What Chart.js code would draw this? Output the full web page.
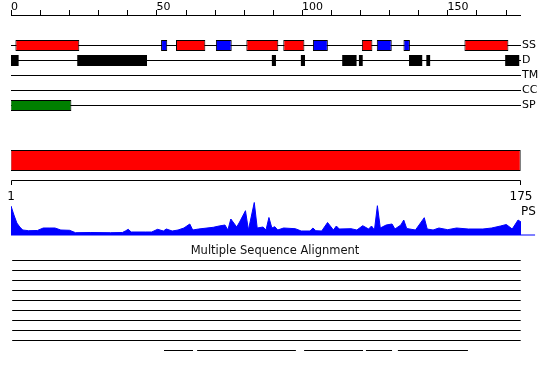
<!DOCTYPE html>
<html>
<head>
<meta charset="utf-8">
<script src="https://cdn.jsdelivr.net/npm/chart.js@4.4.0/dist/chart.umd.min.js"></script>
<style>
html,body{margin:0;padding:0;background:#fff;}
canvas{display:block;}
</style>
</head>
<body>
<canvas id="c" width="550" height="380"></canvas>
<script>
// sequence + tracks (residue numbers)
const seqLen = 175;
const trackNames = ['SS', 'D', 'TM', 'CC', 'SP'];
const topTicks = [0, 10, 20, 30, 40, 50, 60, 70, 80, 90, 100, 110, 120, 130, 140, 150, 160, 170];
const topTickLabels = [0, 50, 100, 150];
const rulerLabels = [1, 175];
const profileLabel = 'PS';
const msaTitle = 'Multiple Sequence Alignment';

const helix = [[2.5, 24.3], [57.3, 67.3], [81.3, 92.2], [93.9, 101.1], [120.7, 124.3], [155.7, 170.7]];
const strand = [[52.2, 54.3], [70.9, 76.3], [104.0, 109.1], [125.8, 130.9], [134.9, 137.1]];
const disorder = [[0.7, 3.6], [23.6, 47.4], [90.0, 91.4], [99.9, 101.3], [114.0, 118.9], [119.7, 121.0], [136.8, 141.3], [142.7, 144.0], [169.6, 174.4]];
const transmembrane = [];
const coiledCoil = [];
const signalPeptide = [[0.8, 21.6]];
const domains = [[0.8, 174.9]];

// PS profile (residue, score)
const psPos = [1, 2, 3, 4, 5, 7, 10, 12, 14, 16, 18, 21, 23, 28, 35, 39, 40, 41, 42, 47, 49, 51, 53, 54, 56, 58, 60, 62, 63, 65, 70, 72, 74, 75, 76, 78, 79, 81, 82, 84, 85, 87, 88, 89, 90, 91, 92, 94, 98, 100, 103, 104, 105, 107, 109, 111, 112, 113, 117, 119, 121, 123, 124, 125, 126, 127, 129, 131, 132, 134, 135, 136, 139, 142, 143, 145, 147, 150, 153, 157, 162, 165, 168, 170, 172, 174, 175];
const psVal = [29, 20, 12, 8, 5, 4.3, 4.5, 7, 7, 7, 5, 4.7, 2.3, 2.5, 2.3, 2.5, 4, 5.7, 3, 3, 3, 5.7, 4, 6, 4, 5, 7, 11, 5, 6, 7.7, 9, 10, 5, 16, 8, 13, 24.3, 5, 32.5, 7, 8, 5, 17.5, 7, 8.3, 5, 7, 6.3, 4, 4, 7, 4.3, 4, 12.5, 5, 9, 6, 6.3, 5, 9.3, 6, 9, 5, 29.3, 7, 10, 11, 6, 10, 15, 6.5, 5, 17.3, 6, 5, 7, 5.3, 7, 6, 6, 7, 9, 10.5, 6, 15, 13];

// alignment rows
const msaFullRows = 9;
const msaFull = [[1.4, 174.9]];
const msaPartial = [[53.2, 63.1], [64.5, 98.2], [101.0, 121.1], [122.1, 131.0], [133.0, 156.9]];

// layout (canvas rows)
const rows = { ruler: 15, SS: 45.5, D: 60.5, TM: 75.5, CC: 90.5, SP: 105.5, domain: 160.5, ruler2: 180, psBase: 235, msa: 260.5, msaStep: 10 };
const H = 380;
const font = '"DejaVu Sans", sans-serif';

function bars(label, ranges, row, thick, color, border) {
  return {
    type: 'bar', label: label, indexAxis: 'y', xAxisID: 'x2', yAxisID: 'y', stack: 'tracks',
    data: ranges.map(r => ({ x: r, y: row })),
    barThickness: thick, categoryPercentage: 1, barPercentage: 1, inflateAmount: 0,
    backgroundColor: color,
    borderColor: '#000', borderWidth: border ? 1 : 0, borderSkipped: false
  };
}

const datasets = [
  bars('helix', helix, rows.SS, 11, '#ff0000', true),
  bars('strand', strand, rows.SS, 11, '#0000ff', true),
  bars('disorder', disorder, rows.D, 11, '#000000', false),
  bars('tm', transmembrane, rows.TM, 11, '#000000', false),
  bars('cc', coiledCoil, rows.CC, 11, '#000000', false),
  bars('sp', signalPeptide, rows.SP, 11, '#008000', true),
  bars('domain', domains, rows.domain, 21, '#ff0000', true)
];
for (let i = 0; i < msaFullRows; i++) {
  datasets.push(bars('msa' + i, msaFull, rows.msa + i * rows.msaStep, 1, '#000000', false));
}
datasets.push(bars('msaLast', msaPartial, rows.msa + msaFullRows * rows.msaStep, 1, '#000000', false));
trackNames.forEach(function(n) {
  const d = bars('line ' + n, [[1, seqLen]], rows[n], 1, '#000000', false);
  d.order = 5;
  datasets.push(d);
});
datasets.push({
  type: 'line', label: 'PS', indexAxis: 'x', xAxisID: 'x2', yAxisID: 'yp',
  data: psPos.map((p, i) => ({ x: p, y: psVal[i] })),
  borderColor: '#0000ff', backgroundColor: '#0000ff', borderWidth: 1,
  pointRadius: 0, tension: 0, fill: 'origin'
});
datasets.push({
  type: 'line', label: 'PS base', indexAxis: 'x', xAxisID: 'x2', yAxisID: 'yp',
  data: [{ x: 1, y: 0 }, { x: 179.8, y: 0 }],
  borderColor: '#0000ff', borderWidth: 1, pointRadius: 0, fill: false, clip: false
});

const overlay = {
  id: 'overlay',
  afterDatasetsDraw(chart) {
    const { ctx, scales } = chart;
    const x = scales.x, x2 = scales.x2, y = scales.y;
    ctx.save();
    ctx.strokeStyle = '#000';
    ctx.fillStyle = '#000';
    ctx.lineWidth = 1;

    // top ruler
    const ry = Math.round(y.getPixelForValue(rows.ruler)) + 0.5;
    ctx.beginPath();
    ctx.moveTo(x.getPixelForValue(0), ry);
    ctx.lineTo(x2.getPixelForValue(seqLen), ry);
    topTicks.forEach(function(t) {
      const px = Math.round(x.getPixelForValue(t)) + 0.5;
      ctx.moveTo(px, ry);
      ctx.lineTo(px, ry - 5.5);
    });
    ctx.stroke();
    ctx.font = '11px ' + font;
    ctx.textAlign = 'left';
    ctx.textBaseline = 'alphabetic';
    topTickLabels.forEach(t => ctx.fillText(String(t), x.getPixelForValue(t), ry - 5.5));

    // track names
    ctx.textBaseline = 'middle';
    trackNames.forEach(n => ctx.fillText(n, x2.getPixelForValue(seqLen) + 1, y.getPixelForValue(rows[n])));

    // lower ruler
    const ly = Math.round(y.getPixelForValue(rows.ruler2)) + 0.5;
    const l0 = Math.round(x2.getPixelForValue(rulerLabels[0])) + 0.5;
    const l1 = Math.round(x2.getPixelForValue(rulerLabels[1])) - 0.5;
    ctx.beginPath();
    ctx.moveTo(l0, ly + 4.5);
    ctx.lineTo(l0, ly);
    ctx.lineTo(l1, ly);
    ctx.lineTo(l1, ly + 4.5);
    ctx.stroke();
    ctx.font = '12px ' + font;
    ctx.textAlign = 'center';
    ctx.textBaseline = 'alphabetic';
    rulerLabels.forEach(v => ctx.fillText(String(v), x2.getPixelForValue(v), ly + 19.5));
    ctx.textAlign = 'left';
    ctx.fillText(profileLabel, x2.getPixelForValue(seqLen), ly + 34.5);

    // alignment title
    ctx.font = '11.5px ' + font;
    ctx.textAlign = 'center';
    ctx.fillStyle = '#111';
    ctx.fillText(msaTitle, chart.width / 2, y.getPixelForValue(rows.msa) - 6.5);
    ctx.restore();
  }
};

new Chart(document.getElementById('c'), {
  type: 'bar',
  data: { datasets: datasets },
  options: {
    responsive: false,
    devicePixelRatio: 1,
    animation: false,
    layout: { padding: { left: 11, right: 29, top: 0, bottom: 0 } },
    scales: {
      x: { type: 'linear', axis: 'x', min: 0, max: 175.3, display: false, offset: false },
      x2: { type: 'linear', axis: 'x', min: 1, max: seqLen, display: false, offset: false, stacked: false },
      y: { type: 'linear', axis: 'y', min: 0, max: H, reverse: true, display: false, offset: false },
      yp: { type: 'linear', axis: 'y', min: -(H - rows.psBase), max: rows.psBase, display: false, offset: false }
    },
    plugins: {
      legend: { display: false },
      tooltip: { enabled: false }
    }
  },
  plugins: [overlay]
});
</script>
</body>
</html>
